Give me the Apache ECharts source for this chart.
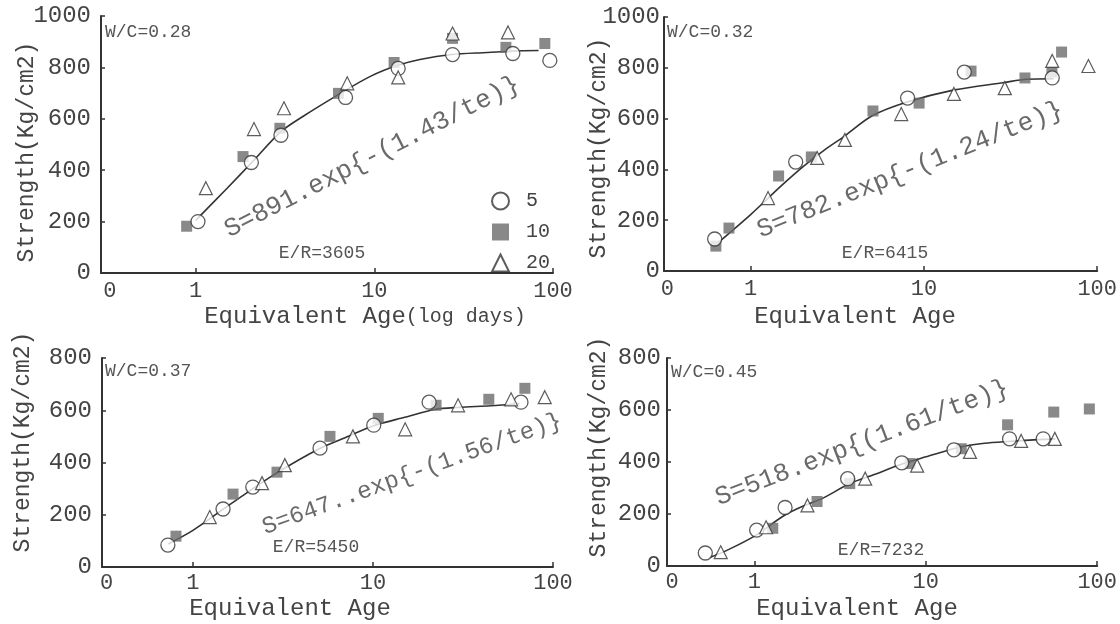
<!DOCTYPE html>
<html>
<head>
<meta charset="utf-8">
<script src="https://cdn.jsdelivr.net/npm/echarts@6/dist/echarts.min.js"></script>
<style>
  html, body { margin: 0; padding: 0; background: #fff; }
  #chart { width: 1120px; height: 624px; }
</style>
</head>
<body>
<div id="chart"></div>
<script>
// equivalent age te (days), strength S (kg/cm2)
// W/C = 0.28
var p1Circles = [[1.03, 200], [2.05, 430], [3.0, 536], [6.9, 683], [13.6, 796], [27.4, 850], [59.6, 854], [96, 827]];
var p1Squares = [[0.89, 182], [1.84, 453], [2.96, 563], [6.3, 699], [12.9, 819], [27.4, 913], [54.5, 878], [90, 893]];
var p1Triangles = [[1.14, 330], [2.12, 560], [3.12, 641], [7.05, 738], [13.6, 761], [27.4, 932], [56, 936]];
var p1Curve = [[1.0, 205], [1.5, 330], [2.06, 430], [3.0, 550], [4.0, 610], [6.5, 700], [9.5, 765], [13.5, 808], [18, 831], [27, 850], [43, 858], [60, 864], [83, 866]];
// W/C = 0.32
var p2Circles = [[0.62, 126], [1.82, 429], [8.05, 681], [17.1, 783], [55, 760]];
var p2Squares = [[0.63, 98], [0.75, 169], [1.45, 374], [2.24, 449], [5.08, 630], [9.38, 661], [18.7, 787], [38.3, 760], [54.8, 783], [62.3, 862]];
var p2Triangles = [[1.26, 287], [2.42, 445], [3.5, 516], [7.4, 618], [14.9, 697], [29.3, 720], [55, 827], [89, 807]];
var p2Curve = [[0.65, 112], [1.0, 222], [1.5, 335], [2.0, 410], [2.65, 475], [3.5, 532], [5.0, 610], [8.0, 665], [15, 713], [29, 742], [39, 755], [56, 757]];
// W/C = 0.37
var p3Circles = [[0.726, 84], [1.47, 222], [2.15, 306], [5.08, 455], [10.1, 543], [20.5, 631], [66.4, 631]];
var p3Squares = [[0.805, 118], [1.67, 279], [2.93, 363], [5.77, 500], [10.7, 569], [22.4, 619], [44, 642], [69.8, 684]];
var p3Triangles = [[1.24, 191], [2.42, 321], [3.24, 390], [7.74, 500], [15.1, 527], [29.7, 619], [58.5, 642], [90, 650]];
var p3Curve = [[0.73, 88], [1.0, 140], [1.5, 225], [2.0, 285], [3.0, 365], [5.0, 452], [7.0, 495], [10, 540], [15, 573], [22, 603], [30, 611], [45, 617], [65, 625]];
// W/C = 0.45
var p4Circles = [[0.517, 50], [1.03, 138], [1.51, 225], [3.5, 336], [7.24, 397], [14.6, 447], [30.8, 489], [48.4, 489]];
var p4Squares = [[1.28, 145], [2.32, 248], [3.6, 317], [8.1, 394], [16.1, 451], [30, 543], [55.8, 592], [90, 604]];
var p4Triangles = [[0.636, 53], [1.17, 149], [2.04, 233], [4.43, 336], [8.9, 386], [18.1, 439], [36, 481], [56.6, 489]];
var p4Curve = [[0.55, 33], [0.7, 62], [1.0, 115], [1.5, 195], [2.0, 235], [2.5, 260], [3.6, 317], [5.0, 352], [7.4, 394], [10, 420], [15.5, 456], [22, 472], [30, 479], [48, 487], [57, 489]];

var xTickLabels = ["0", "1", "10", "100"];
var xTickPos = [-0.48, 0, 1, 2];   // "0" sits half a decade left of 1
var yMax = [1000, 1000, 800, 800];

var font = "'Liberation Mono', monospace";
var ink = "#333";

function lg(pts) {
  return pts.map(function (p) { return [Math.log10(p[0]), p[1]]; });
}

var grids = [
  { left: 101, top: 16, width: 452, height: 257 },
  { left: 664, top: 17, width: 449, height: 254 },
  { left: 102, top: 358, width: 451, height: 209 },
  { left: 667, top: 358, width: 447, height: 208 }
];
var xMins = [-0.53, -0.5, -0.505, -0.51];
var yMargins = [10, 4, 10, 6];

var xAxes = [], yAxes = [];
grids.forEach(function (g, i) {
  xAxes.push({
    type: "value", gridIndex: i, min: xMins[i], max: 2,
    axisLine: { show: true, onZero: false, lineStyle: { color: ink, width: 2 } },
    axisTick: { show: true, inside: true, length: 5, customValues: [0, 1, 2], lineStyle: { color: ink, width: 1.5 } },
    axisLabel: {
      customValues: xTickPos, margin: i < 2 ? 7 : 5,
      color: "#444", fontFamily: font, fontSize: 22,
      formatter: function (v) { return xTickLabels[xTickPos.indexOf(v)]; }
    },
    splitLine: { show: false }
  });
  yAxes.push({
    type: "value", gridIndex: i, min: 0, max: yMax[i], interval: 200,
    axisLine: { show: true, onZero: false, lineStyle: { color: ink, width: 2 } },
    axisTick: { show: true, inside: true, length: 4, lineStyle: { color: ink, width: 1.5 } },
    axisLabel: {
      margin: yMargins[i], color: "#444", fontFamily: font, fontSize: 24,
      formatter: function (v) { return String(v); }
    },
    splitLine: { show: false }
  });
});

var sets = [
  [p1Circles, p1Squares, p1Triangles, p1Curve],
  [p2Circles, p2Squares, p2Triangles, p2Curve],
  [p3Circles, p3Squares, p3Triangles, p3Curve],
  [p4Circles, p4Squares, p4Triangles, p4Curve]
];

var series = [];
sets.forEach(function (s, i) {
  series.push({
    name: "fit", type: "line", xAxisIndex: i, yAxisIndex: i, data: lg(s[3]),
    smooth: 0.3, showSymbol: false, z: 1,
    lineStyle: { color: "#333", width: 1.6 }
  });
  series.push({
    name: "5", type: "scatter", xAxisIndex: i, yAxisIndex: i, data: lg(s[0]),
    symbol: "circle", symbolSize: 14, z: 3,
    itemStyle: { color: "#fff", borderColor: "#333", borderWidth: 1.3 }
  });
  series.push({
    name: "10", type: "scatter", xAxisIndex: i, yAxisIndex: i, data: lg(s[1]),
    symbol: "rect", symbolSize: 11, z: 2,
    itemStyle: { color: "#6b6b6b" }
  });
  series.push({
    name: "20", type: "scatter", xAxisIndex: i, yAxisIndex: i, data: lg(s[2]),
    symbol: "triangle", symbolSize: 13, z: 3,
    itemStyle: { color: "#fff", borderColor: "#333", borderWidth: 1.2 }
  });
});

function txt(x, y, text, size, color, rot, align) {
  return {
    type: "text", x: x, y: y, rotation: (rot || 0) * Math.PI / 180,
    style: {
      text: text, font: size + "px " + font, fill: color || "#444",
      align: align || "center", verticalAlign: "middle"
    }
  };
}

var graphics = [
  // panel labels
  txt(105, 32, "W/C=0.28", 18, "#555", 0, "left"),
  txt(667, 32, "W/C=0.32", 18, "#555", 0, "left"),
  txt(105, 371, "W/C=0.37", 18, "#555", 0, "left"),
  txt(671, 372, "W/C=0.45", 18, "#555", 0, "left"),
  txt(322, 253, "E/R=3605", 18, "#555"),
  txt(885, 253, "E/R=6415", 18, "#555"),
  txt(316, 547, "E/R=5450", 18, "#555"),
  txt(881, 550, "E/R=7232", 18, "#555"),
  // fitted equations
  txt(372, 157, "S=891.exp{-(1.43/te)}", 26, "#6a6a6a", 27),
  txt(910, 170, "S=782.exp{-(1.24/te)}", 26, "#6a6a6a", 22),
  txt(412, 474, "S=647..exp{-(1.56/te)}", 24, "#6a6a6a", 20),
  txt(862, 443, "S=518.exp{(1.61/te)}", 26, "#6a6a6a", 21),
  // axis titles
  {
    type: "text", x: 365, y: 317,
    style: {
      text: "{a|Equivalent Age}{b|(log days)}", align: "center", verticalAlign: "middle",
      rich: {
        a: { font: "24px " + font, fill: "#444" },
        b: { font: "20px " + font, fill: "#444" }
      }
    }
  },
  txt(855, 317, "Equivalent Age", 24, "#444"),
  txt(290, 609, "Equivalent Age", 24, "#444"),
  txt(857, 609, "Equivalent Age", 24, "#444"),
  txt(27, 152, "Strength(Kg/cm2)", 23, "#444", 90),
  txt(599, 148, "Strength(Kg/cm2)", 23, "#444", 90),
  txt(23, 442, "Strength(Kg/cm2)", 23, "#444", 90),
  txt(599, 447, "Strength(Kg/cm2)", 23, "#444", 90)
];

var chart = echarts.init(document.getElementById("chart"));
chart.setOption({
  backgroundColor: "#fff",
  animation: false,
  legend: {
    data: ["5", "10", "20"], orient: "vertical", left: 486, top: 186,
    itemWidth: 17, itemHeight: 17, itemGap: 11,
    textStyle: { fontFamily: font, fontSize: 20, color: "#444", padding: [0, 0, 0, 12] }
  },
  grid: grids,
  xAxis: xAxes,
  yAxis: yAxes,
  series: series,
  graphic: graphics
});
window.addEventListener("resize", function () { chart.resize(); });
</script>
</body>
</html>
